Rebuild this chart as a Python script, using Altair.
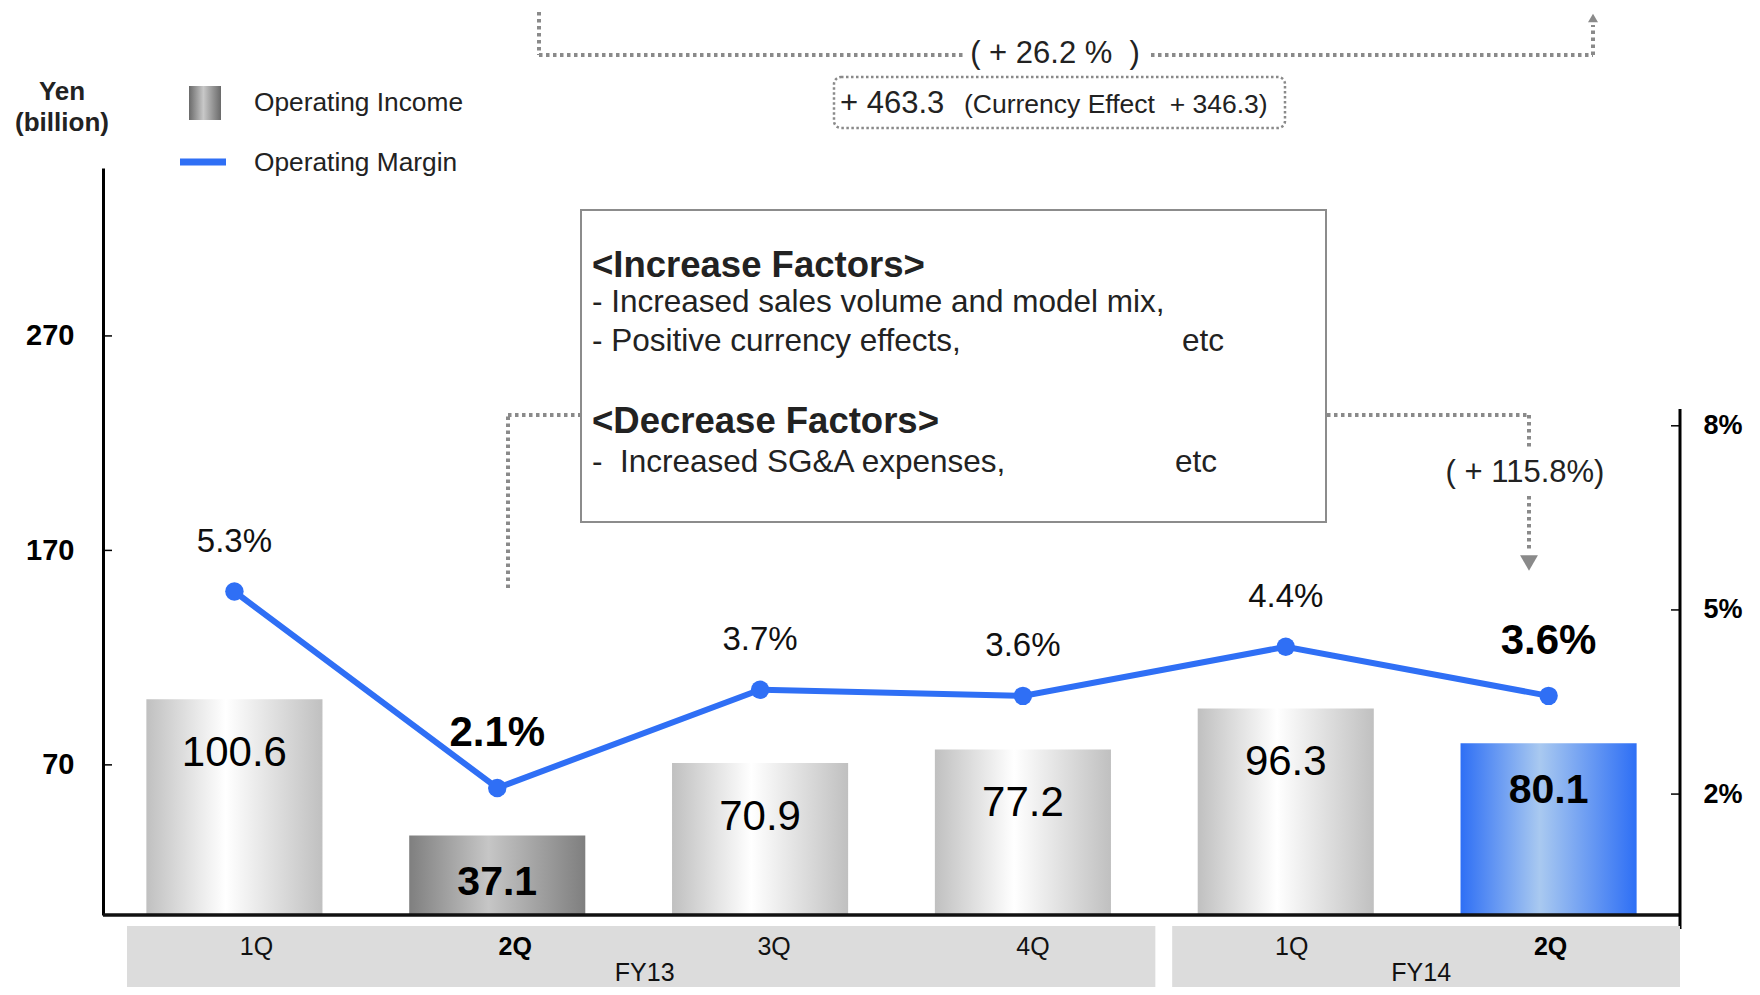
import altair as alt
import pandas as pd

# ---------------- data ----------------
quarter_keys = ["FY13-1Q", "FY13-2Q", "FY13-3Q", "FY13-4Q", "FY14-1Q", "FY14-2Q"]
quarter_labels = ["1Q", "2Q", "3Q", "4Q", "1Q", "2Q"]
fiscal_years = ["FY13", "FY13", "FY13", "FY13", "FY14", "FY14"]
operating_income = [100.6, 37.1, 70.9, 77.2, 96.3, 80.1]
operating_margin = [5.3, 2.1, 3.7, 3.6, 4.4, 3.6]
bar_styles = ["plain", "dark", "plain", "plain", "plain", "blue"]
highlight = [False, True, False, False, False, True]
left_ticks = [70, 170, 270]
right_ticks = [2, 5, 8]

FONT = "Liberation Sans"
W, H = 1577, 747
BLUE = "#2f6ff5"
DOT = "#8a8a8a"

df = pd.DataFrame({
    "key": quarter_keys,
    "q": quarter_labels,
    "fy": fiscal_years,
    "income": operating_income,
    "margin": operating_margin,
    "style": bar_styles,
    "hl": highlight,
})
df["idx"] = range(len(df))
df["pos"] = df["idx"] + 0.5
df["inc_lbl"] = df["income"].map(lambda v: f"{v:.1f}")
df["mar_lbl"] = df["margin"].map(lambda v: f"{v:.1f}%")


def grad(edge, mid):
    return alt.Gradient(
        gradient="linear",
        stops=[alt.GradientStop(color=edge, offset=0),
               alt.GradientStop(color=mid, offset=0.45),
               alt.GradientStop(color=edge, offset=1)],
        x1=0, x2=1, y1=0, y2=0,
    )


gradients = {
    "plain": grad("#c0c0c0", "#ffffff"),
    "dark": grad("#7f7f7f", "#c6c6c6"),
    "blue": grad("#2e6ff5", "#a9c9f0"),
}

x_band = alt.X("key:N", sort=quarter_keys, axis=None,
               scale=alt.Scale(paddingInner=0.33, paddingOuter=0.165))
y_inc = alt.Y("income:Q",
              scale=alt.Scale(domain=[0, 348.3], nice=False, zero=False),
              axis=alt.Axis(values=left_ticks, ticks=False, grid=False, title=None,
                            labelFontSize=29, labelFontWeight="bold", labelColor="#000",
                            labelFont=FONT, labelPadding=29, domainColor="#000",
                            domainWidth=3))
y_pct = alt.Y("margin:Q",
              scale=alt.Scale(domain=[0.03, 12.2], nice=False, zero=False),
              axis=alt.Axis(orient="right", values=right_ticks, ticks=False, grid=False,
                            domain=False, title=None, labelExpr="datum.value + '%'",
                            labelFontSize=27, labelFontWeight="bold", labelColor="#000",
                            labelFont=FONT, labelPadding=23))

base = alt.Chart(df)

# ---------------- bars group ----------------
bar_layers = []
for st, g in gradients.items():
    bar_layers.append(
        base.transform_filter(alt.datum.style == st)
        .mark_bar(fill=g, strokeWidth=0)
        .encode(x=x_band, y=y_inc)
    )

bar_lbl_norm = base.transform_filter(alt.datum.hl == False).mark_text(
    font=FONT, fontSize=42, color="#000", baseline="middle", dy=54
).encode(x=x_band, y=y_inc, text="inc_lbl:N")
bar_lbl_bold = base.transform_filter(alt.datum.hl == True).mark_text(
    font=FONT, fontSize=41, fontWeight="bold", color="#000", baseline="middle", dy=48
).encode(x=x_band, y=y_inc, text="inc_lbl:N")

left_tick_df = pd.DataFrame({"income": left_ticks})
left_tick_marks = alt.Chart(left_tick_df).mark_rule(color="#000", strokeWidth=1.5).encode(
    y=y_inc, x=alt.value(0), x2=alt.value(9))

baseline = alt.Chart(pd.DataFrame({"income": [0]})).mark_rule(
    color="#111", strokeWidth=3.5).encode(y=y_inc, x=alt.value(0), x2=alt.value(W))

bars_group = alt.layer(*bar_layers, bar_lbl_norm, bar_lbl_bold, left_tick_marks, baseline)

# ---------------- margin line group ----------------
line = base.mark_line(color=BLUE, strokeWidth=6).encode(x=x_band, y=y_pct)
pts = base.mark_circle(color=BLUE, size=340, opacity=1).encode(x=x_band, y=y_pct)
mar_norm = base.transform_filter(alt.datum.hl == False).mark_text(
    font=FONT, fontSize=33, color="#111", baseline="middle", dy=-50
).encode(x=x_band, y=y_pct, text="mar_lbl:N")
mar_bold = base.transform_filter(alt.datum.hl == True).mark_text(
    font=FONT, fontSize=42, fontWeight="bold", color="#000", baseline="middle", dy=-55
).encode(x=x_band, y=y_pct, text="mar_lbl:N")
right_tick_df = pd.DataFrame({"margin": right_ticks})
right_tick_marks = alt.Chart(right_tick_df).mark_rule(color="#000", strokeWidth=1.5).encode(
    y=y_pct, x=alt.value(W - 9), x2=alt.value(W))
right_axis_line = alt.Chart(pd.DataFrame({"margin": [0]})).mark_rule(
    color="#000", strokeWidth=3).encode(x=alt.value(W), y=alt.value(241), y2=alt.value(761))

line_group = alt.layer(line, pts, mar_norm, mar_bold, right_tick_marks, right_axis_line)

# ---------------- bottom category panel ----------------
n = len(quarter_keys)
bottom_scale = alt.Scale(domain=[0, n], range=[24, W], nice=False, zero=False)
panels = []
for fy in dict.fromkeys(fiscal_years):
    idxs = [i for i, f in enumerate(fiscal_years) if f == fy]
    panels.append({"fy": fy, "start": idxs[0], "end": idxs[-1] + 1})
pan_df = pd.DataFrame(panels)
GAP_L, GAP_R = 0.038, 0.027
pan_df["x0"] = pan_df["start"].map(lambda s: s + GAP_L if s > 0 else s)
pan_df["x1"] = pan_df["end"].map(lambda e: e - GAP_R if e < n else e)
pan_df["pos"] = (pan_df["start"] + pan_df["end"]) / 2

panel_rects = alt.Chart(pan_df).mark_rect(color="#dcdcdc").encode(
    x=alt.X("x0:Q", scale=bottom_scale, axis=None), x2="x1:Q",
    y=alt.value(758), y2=alt.value(H + 90))
fy_text = alt.Chart(pan_df).mark_text(font=FONT, fontSize=25, color="#111", baseline="middle").encode(
    x=alt.X("pos:Q", scale=bottom_scale, axis=None), y=alt.value(805), text="fy:N")
q_norm = base.transform_filter(alt.datum.hl == False).mark_text(
    font=FONT, fontSize=25, color="#111", baseline="middle").encode(
    x=alt.X("pos:Q", scale=bottom_scale, axis=None), y=alt.value(779), text="q:N")
q_bold = base.transform_filter(alt.datum.hl == True).mark_text(
    font=FONT, fontSize=25, fontWeight="bold", color="#000", baseline="middle").encode(
    x=alt.X("pos:Q", scale=bottom_scale, axis=None), y=alt.value(779), text="q:N")

bottom_group = alt.layer(panel_rects, fy_text, q_norm, q_bold)

# ---------------- annotations (pixel space) ----------------
def px(f):
    return alt.X(f, scale=None, axis=None)


def py(f):
    return alt.Y(f, scale=None, axis=None)


dotted = pd.DataFrame([
    # top bracket
    (436, -156, 436, -113),
    (436, -113, 860, -113),
    (1048, -113, 1490, -113),
    (1490, -113, 1490, -143),
    # left connector
    (405, 420, 405, 247),
    (405, 247, 478, 247),
    # right connector
    (1224, 247, 1426, 247),
    (1426, 247, 1426, 282),
    (1426, 328, 1426, 384),
], columns=["x", "y", "x2", "y2"])
dotted_rules = alt.Chart(dotted).mark_rule(
    color=DOT, strokeWidth=4, strokeDash=[3.5, 3.5]).encode(
    x=px("x:Q"), y=py("y:Q"), x2="x2:Q", y2="y2:Q")

arrows_up = alt.Chart(pd.DataFrame({"x": [1490], "y": [-150]})).mark_point(
    shape="triangle-up", filled=True, color=DOT, size=100, opacity=1).encode(x=px("x:Q"), y=py("y:Q"))
arrows_down = alt.Chart(pd.DataFrame({"x": [1426], "y": [395]})).mark_point(
    shape="triangle-down", filled=True, color=DOT, size=320, opacity=1).encode(x=px("x:Q"), y=py("y:Q"))

dot_box = alt.Chart(pd.DataFrame({"x": [731], "x2": [1182], "y": [-91], "y2": [-40]})).mark_rect(
    fill="white", stroke=DOT, strokeWidth=2.5, strokeDash=[2.5, 2.5], cornerRadius=7).encode(
    x=px("x:Q"), x2="x2:Q", y=py("y:Q"), y2="y2:Q")

main_box = alt.Chart(pd.DataFrame({"x": [478], "x2": [1223], "y": [42], "y2": [354]})).mark_rect(
    fill="white", stroke="#8c8c8c", strokeWidth=2).encode(
    x=px("x:Q"), x2="x2:Q", y=py("y:Q"), y2="y2:Q")

NB = "\u00a0"
txt_norm = pd.DataFrame([
    (f"({NB}+ 26.2 %{NB} )", 952, -114, 31, "center"),
    ("+ 463.3", 737, -64, 31, "left"),
    (f"(Currency Effect{NB} + 346.3)", 861, -63, 26.5, "left"),
    ("( + 115.8%)", 1422, 305, 31, "center"),
    ("- Increased sales volume and model mix,", 489, 135, 31.5, "left"),
    ("- Positive currency effects,", 489, 174, 31.5, "left"),
    ("etc", 1079, 174, 31.5, "left"),
    (f"-{NB} Increased SG&A expenses,", 489, 295, 31.5, "left"),
    ("etc", 1072, 295, 31.5, "left"),
    ("Operating Income", 151, -65, 26.3, "left"),
    ("Operating Margin", 151, -5, 26.3, "left"),
], columns=["t", "x", "y", "s", "a"])
txt_bold = pd.DataFrame([
    ("<Increase Factors>", 489, 98, 36.5, "left"),
    ("<Decrease Factors>", 489, 254, 36.5, "left"),
    ("Yen", -41, -76, 26, "center"),
    ("(billion)", -41, -45, 26, "center"),
], columns=["t", "x", "y", "s", "a"])

text_layers = []
for dfx, weight in [(txt_norm, "normal"), (txt_bold, "bold")]:
    for al in ["left", "center"]:
        sub = dfx[dfx["a"] == al]
        if len(sub) == 0:
            continue
        text_layers.append(
            alt.Chart(sub).mark_text(font=FONT, fontWeight=weight, align=al, baseline="middle",
                                     color="#222").encode(
                x=px("x:Q"), y=py("y:Q"), text="t:N", size=alt.Size("s:Q", scale=None))
        )

legend_sq = alt.Chart(pd.DataFrame({"x": [86], "x2": [118], "y": [-82], "y2": [-48]})).mark_rect(
    fill=grad("#6a6a6a", "#c8c8c8")).encode(x=px("x:Q"), x2="x2:Q", y=py("y:Q"), y2="y2:Q")
legend_line = alt.Chart(pd.DataFrame({"x": [77], "x2": [123], "y": [-6]})).mark_rule(
    color=BLUE, strokeWidth=7).encode(x=px("x:Q"), x2="x2:Q", y=py("y:Q"))

annot_group = alt.layer(dotted_rules, arrows_up, arrows_down, dot_box, main_box,
                        legend_sq, legend_line, *text_layers)

chart = alt.layer(bars_group, line_group, bottom_group, annot_group).resolve_scale(
    x="independent", y="independent"
).properties(
    width=W, height=H,
    padding={"left": 95, "top": 160, "right": 72, "bottom": 72},
    autosize=alt.AutoSizeParams(type="none"),
    background="white",
).configure(font=FONT, view=alt.ViewConfig(stroke=None, strokeWidth=0))

chart.save("out.html", embed_options={"renderer": "svg", "actions": False})
